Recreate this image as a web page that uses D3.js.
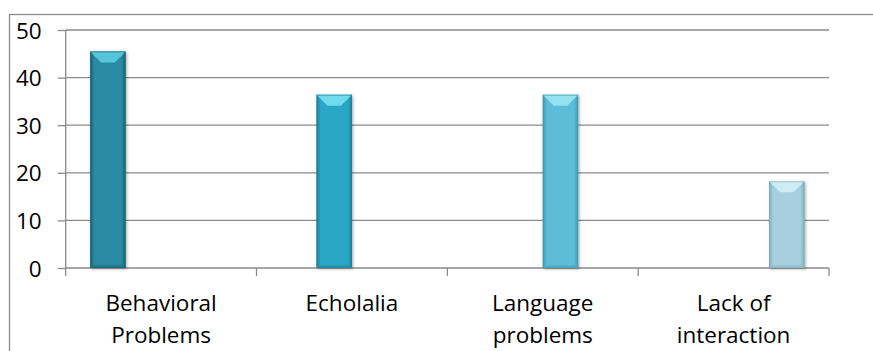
<!DOCTYPE html>
<html>
<head>
<meta charset="utf-8">
<script src="https://cdn.jsdelivr.net/npm/d3@7"></script>
<style>
  html, body { margin: 0; padding: 0; background: #fff; }
  svg { display: block; }
  text { font-family: "Open Sans", sans-serif; fill: #000; }
</style>
</head>
<body>
<svg id="chart" width="873" height="351"></svg>
<script>
// ---- data ----
const categories = ["Behavioral Problems", "Echolalia", "Language problems", "Lack of interaction"];
const categoryLines = [["Behavioral", "Problems"], ["Echolalia"], ["Language", "problems"], ["Lack of", "interaction"]];
const seriesNames = ["Behavioral Problems", "Echolalia", "Language problems", "Lack of interaction"];
const series1 = [45.5, null, null, null];
const series2 = [null, 36.4, null, null];
const series3 = [null, null, 36.4, null];
const series4 = [null, null, null, 18.2];
const yTicks = [0, 10, 20, 30, 40, 50];

// ---- styles ----
const palette = [
  { body: "#2b8ba4", edge: "#1b6072", top: "#5ccbe0", bottom: "#23778c" },
  { body: "#2ba7c5", edge: "#1d7f98", top: "#78e0f2", bottom: "#2595b1" },
  { body: "#5dbdd8", edge: "#3f97b0", top: "#9ae4f2", bottom: "#54aec8" },
  { body: "#a7cfdd", edge: "#7eaebe", top: "#d3eef5", bottom: "#98c2d1" }
];

const allSeries = [series1, series2, series3, series4];
const svg = d3.select("#chart");
const defs = svg.append("defs");

const plot = { left: 65.7, right: 829, top: 30, bottom: 268 };

const x = d3.scaleBand().domain(categories).range([plot.left, plot.right]).padding(0);
const inner = d3.scaleBand().domain(seriesNames)
  .range([24.5, x.bandwidth() - 24.5]).padding(0);
const y = d3.scaleLinear().domain([0, 50]).range([plot.bottom, plot.top]);

// outer border
svg.append("rect")
  .attr("x", 9.5).attr("y", 14.5)
  .attr("width", 880).attr("height", 360)
  .attr("fill", "none").attr("stroke", "#8a8a8a").attr("stroke-width", 1.3);

// gridlines
svg.append("g")
  .selectAll("line")
  .data(yTicks.filter(d => d !== 0))
  .join("line")
  .attr("x1", plot.left).attr("x2", plot.right)
  .attr("y1", d => y(d)).attr("y2", d => y(d))
  .attr("stroke", "#8a8a8a").attr("stroke-width", 1.3);

// y axis
const yAxis = svg.append("g")
  .attr("transform", `translate(${plot.left},0)`)
  .call(d3.axisLeft(y).tickValues(yTicks).tickSize(8).tickPadding(16).tickFormat(d3.format("d")));
yAxis.select(".domain").attr("stroke", "#8a8a8a").attr("stroke-width", 1.3)
  .attr("d", `M0,${plot.top}V${plot.bottom + 8}`);
yAxis.selectAll(".tick line").attr("stroke", "#8a8a8a").attr("stroke-width", 1.3);
yAxis.selectAll(".tick text")
  .style("font-family", "'Open Sans', sans-serif")
  .style("font-size", "22.5px").attr("fill", "#000")
  .attr("dy", "0.36em");

// x axis line + ticks at band boundaries
const xAxisG = svg.append("g");
xAxisG.append("line")
  .attr("x1", plot.left).attr("x2", plot.right)
  .attr("y1", plot.bottom).attr("y2", plot.bottom)
  .attr("stroke", "#8a8a8a").attr("stroke-width", 1.3);
const boundaries = categories.map(c => x(c) + x.bandwidth());
xAxisG.selectAll("line.tk")
  .data(boundaries)
  .join("line").attr("class", "tk")
  .attr("x1", d => d).attr("x2", d => d)
  .attr("y1", plot.bottom).attr("y2", plot.bottom + 8)
  .attr("stroke", "#8a8a8a").attr("stroke-width", 1.3);

// category labels
const labels = svg.append("g");
categories.forEach((c, i) => {
  const t = labels.append("text")
    .attr("x", x(c) + x.bandwidth() / 2)
    .attr("y", 311)
    .attr("text-anchor", "middle")
    .style("font-size", "22.5px");
  categoryLines[i].forEach((ln, j) => {
    t.append("tspan")
      .attr("x", x(c) + x.bandwidth() / 2)
      .attr("dy", j === 0 ? 0 : 32)
      .text(ln);
  });
});

// gradients
palette.forEach((p, i) => {
  const g = defs.append("linearGradient").attr("id", "grad" + i)
    .attr("x1", "0%").attr("x2", "100%").attr("y1", "0%").attr("y2", "0%");
  g.append("stop").attr("offset", "0%").attr("stop-color", p.edge);
  g.append("stop").attr("offset", "12%").attr("stop-color", p.body);
  g.append("stop").attr("offset", "50%").attr("stop-color", p.body);
  g.append("stop").attr("offset", "88%").attr("stop-color", p.body);
  g.append("stop").attr("offset", "100%").attr("stop-color", p.edge);
});

const shadow = defs.append("filter").attr("id", "shadow")
  .attr("x", "-20%").attr("y", "-20%").attr("width", "140%").attr("height", "140%");
shadow.append("feGaussianBlur").attr("in", "SourceAlpha").attr("stdDeviation", 1.5).attr("result", "b");
shadow.append("feOffset").attr("in", "b").attr("dx", 1).attr("dy", 1).attr("result", "o");
shadow.append("feComponentTransfer").attr("in", "o").attr("result", "s")
  .append("feFuncA").attr("type", "linear").attr("slope", 0.35);
const mg = shadow.append("feMerge");
mg.append("feMergeNode").attr("in", "s");
mg.append("feMergeNode").attr("in", "SourceGraphic");

// bars
const barData = [];
allSeries.forEach((vals, si) => {
  vals.forEach((v, ci) => {
    if (v !== null && v !== undefined) barData.push({ si, ci, v });
  });
});

const bars = svg.append("g").selectAll("g.bar")
  .data(barData)
  .join("g").attr("class", "bar")
  .attr("filter", "url(#shadow)");

bars.each(function(d) {
  const g = d3.select(this);
  const x0 = x(categories[d.ci]) + inner(seriesNames[d.si]);
  const w = inner.bandwidth();
  const y0 = y(d.v);
  const y1 = y(0);
  const p = palette[d.si];
  const b = Math.min(11, w / 3);
  g.append("rect")
    .attr("x", x0).attr("y", y0).attr("width", w).attr("height", y1 - y0)
    .attr("fill", `url(#grad${d.si})`);
  // top bevel
  g.append("path")
    .attr("d", `M${x0},${y0}L${x0 + w},${y0}L${x0 + w - b},${y0 + b}L${x0 + b},${y0 + b}Z`)
    .attr("fill", p.top).attr("opacity", 0.9);
  // bottom bevel
  g.append("path")
    .attr("d", `M${x0},${y1}L${x0 + w},${y1}L${x0 + w - 3},${y1 - 3}L${x0 + 3},${y1 - 3}Z`)
    .attr("fill", p.bottom);
  // outline
  g.append("rect")
    .attr("x", x0 + 0.5).attr("y", y0 + 0.5).attr("width", w - 1).attr("height", y1 - y0 - 1)
    .attr("fill", "none").attr("stroke", p.edge).attr("stroke-width", 1).attr("opacity", 0.6);
});
</script>
</body>
</html>
